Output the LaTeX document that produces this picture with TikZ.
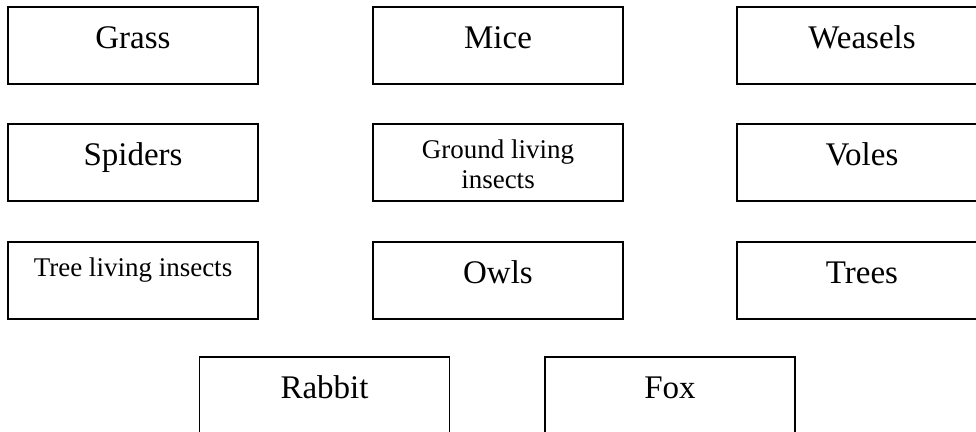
\documentclass[tikz,border=0pt]{standalone}
\usepackage{fontspec}
\setmainfont{Liberation Serif}
\usetikzlibrary{positioning, calc}

\begin{document}
\begin{tikzpicture}[
    x=0.5pt, y=-0.5pt,
    cell/.style={draw, line width=0.75pt, minimum width=125pt, minimum height=38.5pt, inner sep=0pt},
    bigname/.style={font=\fontsize{16.5}{19}\selectfont, anchor=base, inner sep=0pt},
    smallname/.style={font=\fontsize{13.5}{15}\selectfont, anchor=base, align=center, inner sep=0pt},
]
\useasboundingbox (0,0) rectangle (976,432);
\clip (0,0) rectangle (976,432);

% Boxes with one big word
\foreach \id/\cx/\cy/\txt in {grass/133/45.5/Grass, mice/498/45.5/Mice, weasels/862/45.5/Weasels,
    spiders/133/162.5/Spiders, voles/862/162.5/Voles,
    owls/498/280.5/Owls, trees/862/280.5/Trees,
    rabbit/324.5/395.5/Rabbit, fox/670/395.5/Fox} {
    \node[cell] (\id) at (\cx,\cy) {};
    \node[bigname] (\id-txt) at ($(\id.north)+(0,42)$) {\txt};
}

% Boxes with smaller text
\node[cell] (ground) at (498,162.5) {};
\node[smallname] (ground-txt) at ($(ground.north)+(0,65)$) {Ground living\\insects};
\node[cell] (treeins) at (133,280.5) {};
\node[smallname] (treeins-txt) at ($(treeins.north)+(0,35)$) {Tree living insects};

\end{tikzpicture}
\end{document}
